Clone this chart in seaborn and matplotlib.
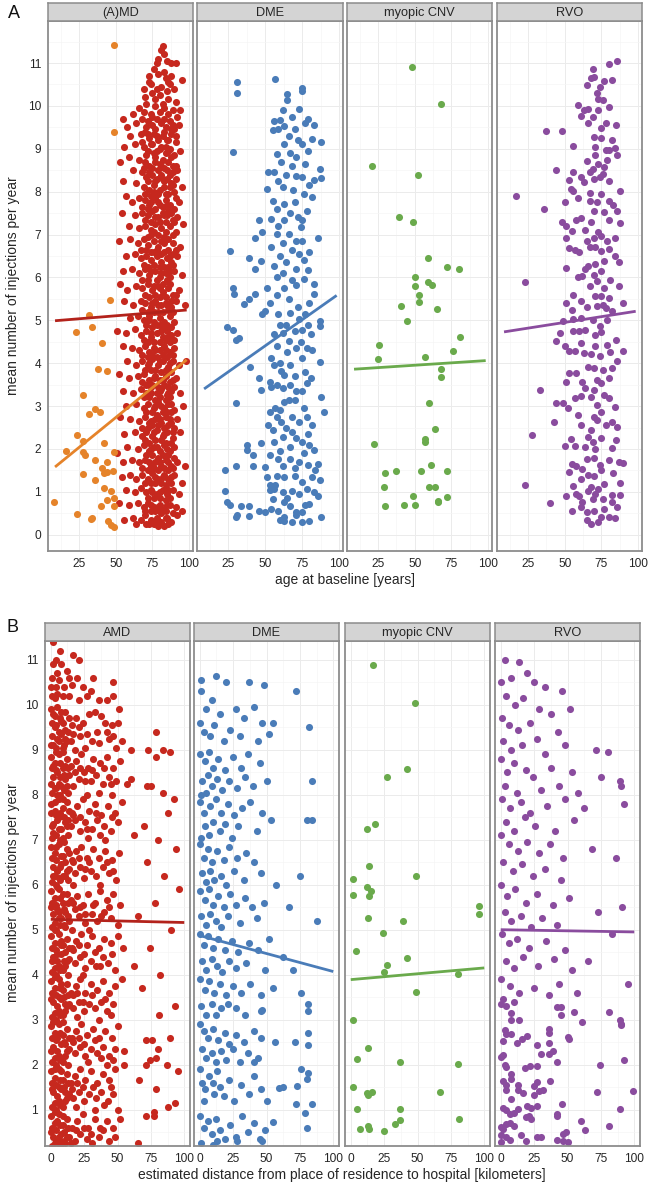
"""
Injection frequency vs age / distance, faceted by indication (A and B panels)
"""

import matplotlib
matplotlib.use("Agg")
import matplotlib.pyplot as plt
import seaborn as sns
from matplotlib.ticker import MultipleLocator

sns.set_style("white")
plt.rcParams['font.family'] = ['Liberation Sans', 'DejaVu Sans']

# ---------------------------------------------------------------------------
# Data: (x, mean injections per year)
# ---------------------------------------------------------------------------
facet_titles_a = ['(A)MD', 'DME', 'myopic CNV', 'RVO']
facet_titles_b = ['AMD', 'DME', 'myopic CNV', 'RVO']

# Panel A: age at baseline [years]
amd_age = [
    (82, 11.4), (81, 11.3), (83, 11.2), (85, 11.05), (78, 11.0), (88, 11.0), (91, 11.0), (95, 10.6),
    (76, 10.85), (79, 10.75), (84, 10.65), (73, 10.7), (87, 10.5), (90, 10.4), (69, 10.4), (75, 10.3),
    (80, 10.25), (86, 10.15), (91, 10.1), (66, 9.95), (71, 10.05), (77, 10.0), (83, 9.95), (89, 9.9),
    (62, 9.8), (55, 9.7), (94, 9.9),
    (58, 9.5), (64, 9.6), (68, 9.7), (72, 9.65), (75, 9.55), (78, 9.7), (81, 9.6), (84, 9.5), (87, 9.65),
    (90, 9.45), (93, 9.55), (60, 9.3), (67, 9.35), (70, 9.4), (73, 9.25), (76, 9.35), (79, 9.2), (82, 9.3),
    (85, 9.2), (88, 9.35), (91, 9.15), (56, 9.05), (63, 9.1), (69, 9.05), (72, 8.95), (75, 9.1), (78, 8.95),
    (81, 9.05), (84, 8.9), (87, 9.0), (90, 8.85), (94, 8.95),
    (53, 8.7), (59, 8.8), (66, 8.75), (70, 8.7), (73, 8.6), (77, 8.7), (80, 8.65), (83, 8.55), (86, 8.7),
    (89, 8.6), (92, 8.5), (62, 8.5), (68, 8.45), (71, 8.35), (75, 8.4), (78, 8.3), (81, 8.4), (85, 8.3),
    (88, 8.2), (91, 8.3), (55, 8.25), (64, 8.2), (69, 8.1), (73, 8.05), (76, 8.15), (80, 8.05), (83, 8.1),
    (86, 7.95), (90, 8.0), (95, 8.1),
    (57, 7.9), (61, 7.75), (66, 7.85), (70, 7.8), (74, 7.75), (77, 7.85), (80, 7.7), (84, 7.8), (87, 7.7),
    (90, 7.6), (93, 7.75), (54, 7.5), (63, 7.45), (68, 7.5), (72, 7.45), (75, 7.55), (79, 7.4), (82, 7.5),
    (85, 7.45), (89, 7.35), (92, 7.4), (59, 7.2), (66, 7.15), (70, 7.2), (74, 7.1), (77, 7.25), (81, 7.15),
    (84, 7.05), (87, 7.2), (91, 7.05), (96, 7.25),
    (52, 6.85), (60, 6.9), (65, 6.8), (69, 6.9), (72, 6.75), (76, 6.85), (79, 6.7), (83, 6.8), (86, 6.65),
    (89, 6.8), (94, 6.7), (57, 6.5), (63, 6.55), (67, 6.45), (71, 6.5), (74, 6.4), (78, 6.5), (81, 6.35),
    (85, 6.45), (88, 6.35), (92, 6.5), (55, 6.15), (61, 6.2), (66, 6.1), (70, 6.2), (73, 6.05), (77, 6.15),
    (80, 6.0), (84, 6.1), (87, 6.0), (90, 6.15), (95, 6.05),
    (53, 5.85), (58, 5.7), (64, 5.8), (68, 5.75), (72, 5.85), (75, 5.7), (79, 5.8), (82, 5.65), (86, 5.75),
    (89, 5.6), (93, 5.7), (56, 5.45), (62, 5.35), (67, 5.45), (70, 5.4), (74, 5.3), (77, 5.45), (81, 5.35),
    (84, 5.4), (88, 5.3), (91, 5.45), (97, 5.35), (60, 5.05), (65, 5.1), (69, 5.0), (73, 5.1), (76, 4.95),
    (80, 5.05), (83, 4.95), (87, 5.1), (90, 4.95),
    (51, 4.75), (57, 4.7), (63, 4.8), (67, 4.65), (71, 4.75), (74, 4.6), (78, 4.7), (82, 4.6), (85, 4.75),
    (88, 4.65), (92, 4.7), (55, 4.4), (61, 4.35), (66, 4.3), (70, 4.4), (73, 4.25), (76, 4.35), (80, 4.3),
    (83, 4.4), (87, 4.25), (90, 4.35), (98, 4.05), (58, 4.05), (64, 3.95), (68, 4.05), (72, 3.95), (75, 4.1),
    (79, 3.95), (82, 4.05), (86, 3.9), (89, 4.05), (93, 3.95),
    (52, 3.75), (59, 3.65), (65, 3.7), (69, 3.75), (73, 3.6), (77, 3.7), (80, 3.6), (84, 3.7), (87, 3.55),
    (91, 3.65), (55, 3.35), (62, 3.3), (67, 3.4), (71, 3.3), (74, 3.45), (78, 3.3), (81, 3.4), (85, 3.25),
    (88, 3.35), (94, 3.3), (57, 3.0), (64, 3.05), (69, 2.95), (72, 3.05), (76, 2.95), (79, 3.1), (83, 2.95),
    (86, 3.05), (90, 2.9), (96, 3.0),
    (53, 2.75), (60, 2.7), (66, 2.65), (70, 2.75), (73, 2.6), (77, 2.7), (81, 2.6), (84, 2.75), (88, 2.6),
    (92, 2.7), (56, 2.35), (63, 2.4), (68, 2.3), (71, 2.4), (75, 2.3), (78, 2.45), (82, 2.3), (85, 2.4),
    (89, 2.25), (94, 2.4), (58, 2.05), (65, 2.0), (69, 2.1), (73, 1.95), (76, 2.05), (80, 1.95), (83, 2.1),
    (87, 1.95), (90, 2.05), (97, 1.6),
    (51, 1.9), (55, 1.7), (61, 1.75), (66, 1.7), (70, 1.75), (74, 1.6), (77, 1.7), (81, 1.6), (84, 1.75),
    (88, 1.6), (92, 1.7), (54, 1.35), (60, 1.4), (64, 1.3), (68, 1.4), (72, 1.3), (75, 1.45), (79, 1.3),
    (83, 1.4), (86, 1.3), (90, 1.4), (95, 1.2), (57, 1.05), (63, 1.0), (67, 1.1), (71, 1.0), (74, 1.05),
    (78, 0.95), (82, 1.05), (85, 0.95), (89, 1.05), (93, 0.95),
    (52, 0.75), (59, 0.7), (65, 0.75), (69, 0.65), (72, 0.75), (76, 0.65), (80, 0.7), (83, 0.6), (87, 0.7),
    (91, 0.65), (95, 0.55), (56, 0.35), (62, 0.4), (67, 0.35), (70, 0.45), (74, 0.35), (78, 0.4), (81, 0.3),
    (85, 0.4), (88, 0.3), (92, 0.45), (64, 0.25), (73, 0.25), (79, 0.2), (86, 0.25),
]
# the solid core of the (A)MD cloud, ages ~68-92
amd_age_core = [
    (70, 10.2), (74, 10.5), (81, 10.45), (85, 10.35), (88, 10.7), (77, 10.15), (83, 10.8), (79, 11.1),
    (69, 9.85), (74, 9.8), (80, 9.85), (86, 9.8), (92, 9.75), (71, 9.5), (77, 9.45), (83, 9.4), (89, 9.55),
    (68, 9.15), (74, 9.1), (80, 9.0), (86, 9.2), (91, 9.3), (71, 8.85), (77, 8.8), (82, 8.75), (88, 8.8),
    (69, 8.55), (75, 8.55), (79, 8.5), (85, 8.5), (91, 8.6), (72, 8.25), (77, 8.25), (83, 8.25), (87, 8.4),
    (70, 7.95), (74, 7.9), (79, 7.95), (84, 7.95), (89, 8.15),
    (68, 7.65), (72, 7.6), (77, 7.6), (82, 7.65), (86, 7.55), (91, 7.85), (70, 7.35), (74, 7.3), (80, 7.3),
    (84, 7.3), (88, 7.5), (72, 6.95), (76, 7.05), (79, 7.0), (83, 6.95), (89, 7.0),
    (67, 6.65), (71, 6.65), (74, 6.6), (78, 6.65), (81, 6.55), (87, 6.5), (91, 6.65), (69, 6.3), (72, 6.25),
    (76, 6.3), (80, 6.25), (83, 6.25), (86, 6.25), (89, 6.3), (68, 5.95), (72, 5.95), (78, 5.95), (82, 5.85),
    (85, 5.95),
    (70, 5.6), (73, 5.55), (77, 5.6), (80, 5.55), (84, 5.55), (88, 5.45), (91, 5.6), (68, 5.25), (72, 5.2),
    (76, 5.2), (79, 5.2), (82, 5.2), (86, 5.25), (89, 5.2), (71, 4.9), (75, 4.85), (78, 4.9), (82, 4.85),
    (85, 4.9),
    (69, 4.55), (72, 4.5), (76, 4.5), (80, 4.5), (84, 4.55), (87, 4.5), (90, 4.55), (68, 4.2), (72, 4.15),
    (75, 4.2), (78, 4.15), (82, 4.2), (85, 4.15), (89, 4.2), (70, 3.85), (74, 3.85), (77, 3.85), (81, 3.8),
    (84, 3.85), (88, 3.8),
    (68, 3.55), (71, 3.5), (75, 3.5), (79, 3.45), (83, 3.5), (86, 3.45), (90, 3.45), (69, 3.2), (73, 3.2),
    (77, 3.15), (80, 3.2), (84, 3.15), (87, 3.2), (71, 2.85), (75, 2.85), (78, 2.8), (82, 2.85), (85, 2.85),
    (88, 2.85),
    (68, 2.5), (72, 2.5), (75, 2.55), (79, 2.55), (83, 2.5), (86, 2.55), (90, 2.5), (70, 2.2), (73, 2.15),
    (77, 2.2), (81, 2.2), (84, 2.15), (88, 2.15), (71, 1.85), (75, 1.85), (79, 1.8), (82, 1.85), (86, 1.85),
    (90, 1.8),
    (68, 1.55), (72, 1.5), (76, 1.55), (79, 1.5), (83, 1.55), (86, 1.5), (89, 1.55), (70, 1.2), (74, 1.2),
    (77, 1.2), (81, 1.2), (84, 1.15), (88, 1.2), (72, 0.85), (76, 0.85), (80, 0.85), (84, 0.8), (87, 0.85),
    (70, 0.55), (74, 0.55), (77, 0.55), (81, 0.5), (84, 0.55), (89, 0.5), (76, 0.25), (83, 0.2), (71, 0.25),
    (73, 10.55), (78, 10.4), (86, 10.55), (82, 10.05), (75, 9.75), (83, 9.7), (88, 9.45), (72, 9.35),
    (78, 9.3), (84, 9.05), (76, 8.9), (86, 8.95), (73, 8.45), (81, 8.6), (89, 8.45), (76, 8.0), (82, 8.3),
    (87, 8.1), (73, 7.7), (79, 7.75), (85, 7.7), (77, 7.4), (83, 7.45), (90, 7.3), (74, 7.0), (81, 6.85),
    (86, 6.9), (76, 6.6), (83, 6.6), (89, 6.55), (74, 6.15), (81, 6.1), (87, 6.15), (76, 5.8), (80, 5.75),
    (87, 5.85), (75, 5.4), (79, 5.35), (85, 5.35), (73, 5.0), (80, 4.9), (88, 4.85), (74, 4.7), (81, 4.75),
    (86, 4.6), (77, 4.3), (84, 4.3), (73, 4.0), (80, 4.05), (87, 4.0), (76, 3.65), (82, 3.6), (89, 3.6),
    (74, 3.3), (80, 3.35), (86, 3.3), (77, 3.0), (81, 3.0), (88, 3.05), (74, 2.65), (80, 2.7), (87, 2.7),
    (76, 2.4), (83, 2.35), (89, 2.4), (74, 2.0), (78, 2.05), (85, 2.0), (73, 1.7), (80, 1.7), (86, 1.7),
    (77, 1.35), (82, 1.35), (88, 1.35), (75, 1.0), (80, 1.0), (86, 1.05), (74, 0.7), (79, 0.65), (85, 0.7),
    (78, 0.35), (84, 0.4), (80, 0.55),
]
md_young_age = [
    (49, 11.42), (49, 9.38), (46, 5.47), (32, 5.13), (34, 4.84), (23, 4.73), (41, 4.47), (38, 3.87),
    (44, 3.81), (28, 3.26), (36, 2.94), (32, 2.81), (39, 2.85), (24, 2.32), (28, 2.18), (28, 1.92),
    (29, 1.87), (16, 1.96), (42, 2.14), (49, 1.93), (36, 1.75), (44, 1.70), (41, 1.56), (42, 1.45),
    (44, 1.47), (48, 1.48), (28, 1.41), (36, 1.28), (42, 1.09), (47, 1.01), (44, 0.82), (49, 0.85),
    (8, 0.77), (40, 0.66), (49, 0.67), (24, 0.48), (33, 0.36), (34, 0.39), (45, 0.31), (47, 0.23), (49, 0.19),
]
dme_age = [
    (31, 10.56), (31, 10.31), (57, 10.63), (65, 10.28), (65, 10.14), (75, 10.41), (75, 10.34), (73, 9.92),
    (56, 9.65), (60, 9.66), (63, 9.53), (70, 9.47), (79, 9.69), (83, 9.55), (59, 9.47), (55, 9.44),
    (28, 8.92), (82, 9.22), (88, 9.15), (75, 9.12), (63, 9.12), (58, 8.89), (67, 8.90), (71, 8.81),
    (87, 8.54), (83, 8.28), (88, 8.33), (52, 8.46), (56, 8.45), (51, 8.07), (59, 8.26), (64, 8.40),
    (71, 8.37), (75, 8.34), (76, 7.94), (82, 7.87), (55, 7.79), (63, 7.72), (67, 7.50), (72, 7.40),
    (46, 7.35), (54, 7.36), (59, 7.21), (48, 7.07), (43, 6.92), (58, 7.01), (66, 7.01), (74, 7.18),
    (86, 6.93), (26, 6.62), (54, 6.70), (60, 6.50), (68, 6.65), (75, 6.86), (73, 6.54), (39, 6.45),
    (47, 6.39), (43, 6.19), (56, 6.27), (62, 6.10), (71, 6.19), (79, 6.17), (28, 5.76), (29, 5.61),
    (43, 5.62), (39, 5.49), (36, 5.39), (51, 5.76), (53, 5.41), (58, 5.58), (63, 5.76), (71, 5.83),
    (76, 5.96), (83, 5.84), (83, 5.61), (50, 5.21), (59, 5.14), (67, 5.18), (73, 5.02), (77, 5.14),
    (87, 4.98), (48, 5.14), (24, 4.84), (28, 4.78), (30, 4.53), (32, 4.59), (56, 4.67), (62, 4.71),
    (64, 4.90), (75, 4.78), (81, 4.67), (87, 4.86), (66, 4.51), (71, 4.35), (78, 4.35), (54, 4.12),
    (60, 4.00), (61, 3.81), (63, 3.73), (67, 3.96), (75, 4.12), (87, 4.03), (40, 3.92), (56, 3.96),
    (46, 3.65), (53, 3.57), (47, 3.38), (54, 3.45), (62, 3.42), (67, 3.49), (71, 3.34), (78, 3.53),
    (81, 3.65), (30, 3.08), (63, 3.10), (70, 3.14), (76, 2.95), (88, 3.20), (90, 2.87), (53, 2.87),
    (58, 2.75), (61, 2.63), (68, 2.75), (73, 2.63), (82, 2.56), (52, 2.56), (47, 2.13), (55, 2.44),
    (56, 2.16), (62, 2.28), (68, 2.40), (75, 2.16), (80, 2.09), (83, 1.97), (38, 2.09), (38, 1.97),
    (42, 1.87), (30, 1.60), (42, 1.60), (50, 1.59), (53, 1.85), (59, 1.77), (67, 1.77), (73, 1.70),
    (79, 1.62), (84, 1.50), (23, 1.52), (51, 1.34), (58, 1.38), (63, 1.34), (70, 1.38), (75, 1.23),
    (87, 1.27), (23, 1.02), (53, 1.15), (56, 1.07), (62, 0.99), (68, 1.03), (78, 1.07), (83, 0.99),
    (24, 0.76), (26, 0.70), (34, 0.68), (39, 0.66), (46, 0.55), (50, 0.52), (55, 0.84), (59, 0.56),
    (63, 0.76), (67, 0.68), (71, 0.52), (75, 0.52), (80, 0.72), (86, 0.91), (31, 0.46), (30, 0.41),
    (39, 0.43), (63, 0.41), (63, 0.31), (80, 0.31), (88, 0.41), (71, 0.45), (54, 0.61),
    (62, 9.9), (68, 9.75), (77, 9.6), (66, 9.3), (72, 9.2), (79, 8.95), (61, 8.7), (68, 8.6), (77, 8.65),
    (62, 8.1), (69, 8.05), (80, 8.15), (58, 7.6), (70, 7.75), (78, 7.55), (63, 7.35), (75, 7.35), (62, 6.8),
    (71, 6.85), (80, 6.6), (64, 6.35), (76, 6.4), (58, 6.0), (68, 5.95), (80, 5.4), (66, 5.5), (72, 5.3),
    (60, 4.9), (70, 4.75), (79, 4.9), (58, 4.4), (74, 4.5), (65, 4.25), (70, 3.7), (77, 3.8), (58, 3.5),
    (75, 3.35), (66, 3.15), (60, 2.9), (78, 2.75), (64, 2.5), (71, 2.25), (60, 1.95), (67, 2.05), (76, 1.9),
    (62, 1.6), (70, 1.55), (57, 1.15), (73, 0.95), (65, 0.85), (77, 0.7), (60, 0.35), (68, 0.3), (75, 0.3),
    (82, 1.35), (79, 2.35), (86, 1.65), (57, 2.95), (53, 1.05), (82, 4.3),
]
cnv_age = [
    (48, 10.9), (68, 10.05), (21, 8.6), (52, 8.4), (39, 7.4), (49, 7.3), (59, 6.45), (72, 6.25),
    (80, 6.2), (50, 6.0), (50, 5.8), (59, 5.9), (62, 5.82), (53, 5.58), (53, 5.43), (41, 5.33),
    (65, 5.26), (45, 4.98), (26, 4.43), (81, 4.6), (76, 4.29), (25, 4.09), (57, 4.14), (68, 3.87),
    (68, 3.68), (60, 3.07), (64, 2.47), (57, 2.23), (57, 2.16), (22, 2.12), (61, 1.62), (30, 1.45),
    (37, 1.49), (54, 1.48), (72, 1.48), (29, 1.11), (60, 1.11), (64, 1.12), (49, 0.91), (72, 0.88),
    (66, 0.78), (30, 0.66), (43, 0.69), (50, 0.69), (66, 0.76),
]
rvo_age = [
    (86, 11.04), (80, 10.98), (69, 10.86), (70, 10.67), (68, 10.65), (77, 10.57), (65, 10.49), (74, 10.44),
    (73, 10.17), (76, 10.14), (59, 10.02), (63, 9.91), (66, 9.92), (73, 9.91), (80, 9.98), (61, 9.76),
    (69, 9.75), (37, 9.41), (48, 9.41), (70, 9.28), (75, 9.48), (85, 9.55), (75, 9.25), (56, 9.06),
    (78, 8.97), (80, 8.97), (84, 9.01), (86, 8.85), (71, 8.85), (65, 8.72), (73, 8.65), (77, 8.58),
    (44, 8.51), (56, 8.46), (61, 8.34), (69, 8.54), (76, 8.42), (80, 8.26), (53, 8.28), (63, 8.22),
    (70, 8.30), (74, 8.34), (54, 8.07), (56, 8.01), (17, 7.90), (50, 7.77), (67, 7.97), (67, 7.79),
    (75, 7.95), (80, 7.79), (88, 8.01), (36, 7.60), (70, 7.56), (77, 7.52), (86, 7.56), (48, 7.29),
    (51, 7.21), (58, 7.33), (61, 7.38), (68, 7.29), (80, 7.33), (88, 7.27), (51, 6.93), (55, 7.08),
    (65, 6.86), (70, 6.93), (75, 6.97), (79, 6.86), (84, 6.93), (53, 6.68), (57, 6.65), (67, 6.70),
    (75, 6.62), (80, 6.66), (51, 6.23), (66, 6.27), (71, 6.31), (77, 6.39), (87, 6.37), (23, 5.89),
    (59, 6.01), (62, 6.03), (70, 6.06), (72, 5.92), (77, 5.76), (87, 5.79), (51, 5.41), (56, 5.59),
    (61, 5.45), (55, 5.25), (71, 5.57), (75, 5.57), (80, 5.51), (72, 5.33), (78, 5.29), (82, 5.21),
    (90, 5.41), (56, 5.02), (61, 5.06), (49, 4.98), (64, 4.78), (74, 4.86), (75, 4.73), (47, 4.71),
    (56, 4.75), (44, 4.51), (50, 4.39), (53, 4.28), (57, 4.28), (61, 4.47), (63, 4.24), (68, 4.21),
    (71, 4.39), (74, 4.16), (79, 4.43), (85, 4.55), (90, 4.28), (86, 4.04), (70, 3.89), (82, 3.89),
    (53, 3.77), (58, 3.77), (80, 3.65), (75, 3.53), (51, 3.55), (33, 3.38), (64, 3.42), (70, 3.38),
    (61, 3.24), (57, 3.18), (44, 3.06), (49, 3.08), (52, 2.95), (72, 3.02), (80, 3.18), (84, 2.98),
    (70, 2.75), (75, 2.87), (72, 2.67), (82, 2.63), (86, 2.52), (43, 2.63), (61, 2.56), (68, 2.44),
    (28, 2.32), (54, 2.24), (66, 2.28), (69, 2.16), (71, 2.00), (50, 2.07), (57, 2.07), (82, 2.02),
    (65, 1.77), (55, 1.66), (62, 1.54), (53, 1.46), (74, 1.62), (75, 1.50), (70, 1.38), (90, 1.68),
    (87, 1.70), (56, 1.13), (61, 1.29), (66, 1.03), (68, 1.12), (73, 1.07), (77, 1.19), (82, 0.93),
    (88, 0.93), (23, 1.15), (51, 0.91), (58, 0.95), (62, 0.76), (69, 0.84), (76, 0.84), (82, 0.76),
    (40, 0.74), (55, 0.55), (61, 0.64), (65, 0.52), (70, 0.56), (75, 0.41), (80, 0.41), (84, 0.39),
    (65, 0.34),
    (72, 10.3), (82, 10.6), (66, 9.6), (78, 9.6), (71, 9.05), (82, 9.2), (67, 8.45), (79, 8.75), (59, 7.85),
    (72, 7.75), (83, 7.7), (64, 7.1), (73, 7.05), (60, 6.6), (71, 6.7), (84, 6.5), (64, 6.2), (75, 6.15),
    (67, 5.8), (81, 5.95), (65, 5.3), (76, 5.35), (69, 5.0), (79, 5.0), (60, 4.75), (71, 4.65), (81, 4.25),
    (66, 3.9), (76, 3.85), (62, 3.55), (72, 3.6), (68, 3.2), (77, 3.25), (59, 2.8), (78, 2.55), (64, 2.05),
    (75, 2.25), (70, 1.8), (80, 1.75), (58, 1.6), (83, 1.45), (66, 1.4), (71, 0.95), (77, 0.6), (60, 0.9),
    (68, 0.25), (73, 0.3), (86, 0.65), (88, 1.2), (85, 2.2),
]

# Panel B: estimated distance to hospital [km]
amd_dist = [
    (2, 11.4), (4, 11.0), (8, 10.9), (5, 10.7), (17, 11.1), (21, 11.0), (14, 10.6), (20, 10.6), (32, 10.6),
    (47, 10.5), (10, 10.4), (4, 10.4), (24, 10.4), (1, 10.2), (27, 10.2), (14, 10.2), (21, 10.1), (36, 10.1),
    (42, 10.1), (47, 10.2),
    (0, 9.9), (2, 9.8), (5, 9.95), (7, 9.7), (11, 9.85), (3, 9.5), (9, 9.6), (13, 9.4), (16, 9.55), (19, 9.7),
    (24, 9.6), (29, 9.8), (33, 9.85), (38, 9.75), (41, 9.6), (46, 9.55), (51, 9.9), (50, 9.6), (1, 9.3),
    (6, 9.2), (10, 9.1), (15, 9.2), (22, 9.3), (26, 9.05), (31, 9.2), (35, 9.4), (44, 9.25), (49, 9.05),
    (53, 9.2), (4, 9.05), (8, 9.35), (18, 9.0), (79, 9.4), (60, 9.0), (73, 9.0), (84, 9.0), (89, 8.95), (79, 8.85),
    (0, 8.85), (3, 8.7), (6, 8.9), (9, 8.6), (12, 8.8), (15, 8.65), (19, 8.75), (23, 8.9), (28, 8.6), (32, 8.8),
    (37, 8.7), (42, 8.85), (47, 8.6), (52, 8.75), (2, 8.4), (5, 8.5), (8, 8.2), (11, 8.35), (14, 8.45),
    (17, 8.2), (21, 8.35), (25, 8.5), (30, 8.3), (34, 8.45), (39, 8.25), (44, 8.4), (49, 8.3), (57, 8.25),
    (60, 8.35), (72, 8.2), (75, 8.2), (1, 8.05), (4, 8.15), (7, 8.0), (13, 8.05), (27, 8.0), (36, 8.05),
    (46, 8.0), (84, 8.05), (92, 7.9),
    (0, 7.8), (3, 7.65), (6, 7.9), (9, 7.7), (12, 7.85), (16, 7.6), (20, 7.75), (24, 7.9), (29, 7.65),
    (33, 7.8), (38, 7.55), (43, 7.75), (48, 7.6), (53, 7.85), (2, 7.35), (5, 7.45), (8, 7.25), (11, 7.4),
    (15, 7.3), (18, 7.45), (22, 7.2), (26, 7.4), (31, 7.25), (35, 7.45), (40, 7.3), (45, 7.2), (50, 7.4),
    (1, 7.05), (4, 7.1), (7, 7.0), (13, 7.1), (28, 7.05), (41, 7.0), (62, 7.1), (70, 7.3), (80, 7.0), (88, 7.6),
    (0, 6.85), (3, 6.7), (6, 6.9), (9, 6.65), (12, 6.8), (16, 6.55), (19, 6.75), (23, 6.85), (27, 6.6),
    (32, 6.8), (36, 6.6), (41, 6.75), (46, 6.55), (51, 6.7), (2, 6.4), (5, 6.3), (8, 6.45), (11, 6.2),
    (14, 6.35), (18, 6.25), (22, 6.4), (25, 6.15), (30, 6.3), (34, 6.2), (39, 6.4), (44, 6.25), (49, 6.1),
    (1, 6.05), (4, 6.0), (7, 6.1), (17, 6.0), (37, 6.0), (72, 6.5), (85, 6.2), (94, 6.8), (96, 5.9),
    (0, 5.85), (3, 5.7), (6, 5.9), (9, 5.6), (12, 5.8), (15, 5.65), (20, 5.75), (24, 5.55), (28, 5.8),
    (33, 5.6), (37, 5.85), (42, 5.65), (47, 5.8), (52, 5.55), (2, 5.35), (5, 5.45), (8, 5.25), (11, 5.4),
    (14, 5.2), (18, 5.45), (21, 5.3), (26, 5.15), (31, 5.35), (35, 5.2), (40, 5.4), (45, 5.25), (50, 5.1),
    (1, 5.05), (4, 5.0), (7, 5.1), (16, 5.0), (29, 5.0), (78, 5.6), (65, 5.3), (90, 5.0),
    (0, 4.85), (3, 4.7), (6, 4.9), (9, 4.65), (12, 4.8), (16, 4.6), (19, 4.75), (23, 4.9), (27, 4.65),
    (31, 4.85), (36, 4.6), (40, 4.8), (45, 4.7), (50, 4.85), (54, 4.6), (2, 4.4), (5, 4.3), (8, 4.45),
    (11, 4.2), (14, 4.35), (18, 4.25), (22, 4.4), (26, 4.15), (30, 4.3), (34, 4.2), (39, 4.4), (43, 4.25),
    (48, 4.1), (1, 4.05), (4, 4.0), (7, 4.1), (13, 4.0), (24, 4.0), (74, 4.6), (82, 4.0), (62, 4.2),
    (0, 3.85), (3, 3.7), (6, 3.9), (9, 3.65), (12, 3.8), (15, 3.6), (19, 3.75), (22, 3.9), (26, 3.6),
    (30, 3.8), (35, 3.65), (39, 3.85), (44, 3.6), (48, 3.75), (53, 3.9), (2, 3.4), (5, 3.3), (8, 3.45),
    (11, 3.2), (14, 3.35), (17, 3.25), (21, 3.4), (25, 3.2), (29, 3.35), (33, 3.25), (38, 3.4), (42, 3.2),
    (47, 3.35), (1, 3.05), (4, 3.0), (7, 3.1), (20, 3.05), (36, 3.0), (68, 3.7), (93, 3.3), (81, 3.1),
    (0, 2.85), (3, 2.7), (6, 2.9), (9, 2.65), (12, 2.8), (16, 2.6), (19, 2.75), (23, 2.9), (27, 2.65),
    (32, 2.8), (36, 2.6), (41, 2.75), (46, 2.6), (50, 2.85), (2, 2.4), (5, 2.3), (8, 2.45), (11, 2.2),
    (14, 2.35), (18, 2.25), (22, 2.4), (26, 2.2), (30, 2.35), (35, 2.25), (39, 2.4), (44, 2.2), (48, 2.35),
    (55, 2.3), (1, 2.05), (4, 2.0), (7, 2.1), (13, 2.0), (28, 2.05), (42, 2.0), (55, 2.0), (71, 2.55),
    (76, 2.55), (80, 2.35), (89, 2.6), (74, 2.1), (79, 2.15), (71, 2.0), (87, 2.0),
    (0, 1.85), (3, 1.7), (6, 1.9), (9, 1.65), (12, 1.8), (15, 1.6), (18, 1.75), (22, 1.9), (26, 1.65),
    (30, 1.85), (35, 1.6), (39, 1.8), (44, 1.65), (48, 1.9), (2, 1.4), (5, 1.3), (8, 1.45), (11, 1.2),
    (14, 1.35), (17, 1.25), (21, 1.4), (25, 1.2), (29, 1.35), (34, 1.25), (38, 1.4), (43, 1.2), (47, 1.35),
    (1, 1.05), (4, 1.0), (7, 1.1), (19, 1.05), (33, 1.0), (50, 1.0), (95, 1.85), (66, 1.65), (79, 1.45),
    (88, 1.05), (93, 1.15),
    (0, 0.85), (3, 0.7), (6, 0.9), (9, 0.65), (12, 0.8), (16, 0.6), (20, 0.75), (24, 0.9), (28, 0.6),
    (33, 0.8), (37, 0.6), (42, 0.75), (47, 0.6), (52, 0.8), (2, 0.4), (5, 0.3), (8, 0.45), (11, 0.25),
    (14, 0.4), (18, 0.3), (22, 0.45), (27, 0.35), (31, 0.25), (36, 0.4), (44, 0.3), (1, 0.2), (7, 0.2),
    (71, 0.85), (77, 0.95), (77, 0.85), (65, 0.25),
]
# the solid core of the AMD cloud, 0-50 km
amd_dist_core = [
    (1, 10.6), (6, 10.55), (3, 10.15), (9, 10.2), (12, 10.75), (16, 10.45), (30, 10.3), (7, 11.2),
    (1, 9.6), (4, 9.55), (8, 9.65), (11, 9.45), (14, 9.7), (2, 9.1), (5, 9.25), (9, 9.05), (12, 9.2),
    (17, 9.35), (21, 9.5), (27, 9.35), (36, 9.15), (42, 9.4), (47, 9.3),
    (1, 8.6), (4, 8.55), (7, 8.7), (10, 8.45), (13, 8.6), (3, 8.15), (6, 8.25), (10, 8.1), (12, 8.2),
    (18, 8.5), (22, 8.6), (26, 8.3), (31, 8.55), (40, 8.6), (45, 8.25),
    (0, 7.6), (4, 7.55), (7, 7.6), (10, 7.5), (14, 7.65), (2, 7.15), (6, 7.25), (9, 7.05), (12, 7.3),
    (17, 7.55), (22, 7.5), (27, 7.25), (34, 7.6), (37, 7.1), (46, 7.5),
    (1, 6.6), (4, 6.55), (8, 6.65), (11, 6.5), (14, 6.7), (3, 6.2), (6, 6.15), (9, 6.2), (13, 6.1),
    (17, 6.5), (21, 6.6), (26, 6.35), (29, 6.5), (42, 6.5), (47, 6.3),
    (1, 5.6), (4, 5.55), (7, 5.7), (10, 5.45), (13, 5.6), (3, 5.15), (6, 5.25), (10, 5.1), (13, 5.3),
    (17, 5.6), (22, 5.5), (26, 5.35), (32, 5.55), (38, 5.3), (44, 5.5),
    (1, 4.6), (4, 4.55), (8, 4.65), (11, 4.5), (14, 4.6), (3, 4.15), (6, 4.2), (9, 4.1), (12, 4.3),
    (17, 4.55), (21, 4.65), (25, 4.45), (33, 4.5), (37, 4.2), (46, 4.45),
    (1, 3.6), (4, 3.55), (7, 3.7), (10, 3.5), (13, 3.55), (3, 3.15), (6, 3.2), (9, 3.1), (12, 3.3),
    (17, 3.55), (20, 3.6), (24, 3.4), (31, 3.55), (41, 3.45), (45, 3.1),
    (1, 2.6), (4, 2.55), (7, 2.7), (10, 2.5), (14, 2.6), (3, 2.15), (6, 2.2), (9, 2.05), (12, 2.3),
    (17, 2.5), (21, 2.6), (25, 2.45), (33, 2.55), (38, 2.15), (47, 2.1),
    (1, 1.6), (4, 1.55), (7, 1.65), (10, 1.5), (13, 1.6), (3, 1.15), (6, 1.2), (9, 1.05), (12, 1.25),
    (16, 1.45), (20, 1.6), (24, 1.5), (32, 1.5), (40, 1.1), (45, 1.5),
    (1, 0.6), (4, 0.55), (7, 0.65), (10, 0.5), (13, 0.6), (3, 0.25), (6, 0.4), (10, 0.3), (15, 0.25),
    (19, 0.55), (25, 0.6), (30, 0.45), (39, 0.55), (48, 0.4),
    (2, 10.9), (0, 10.4), (5, 10.25), (3, 9.75), (8, 9.85), (6, 9.4), (11, 9.25), (0, 9.1), (4, 8.95),
    (9, 8.95), (2, 8.65), (7, 8.4), (11, 8.65), (0, 8.25), (5, 8.0), (3, 7.85), (9, 7.9), (6, 7.5),
    (13, 7.45), (1, 7.3), (4, 6.85), (10, 6.95), (7, 6.4), (2, 6.2), (12, 6.3), (5, 5.95), (0, 5.5),
    (9, 5.8), (6, 5.4), (3, 5.0), (11, 5.05), (8, 4.75), (1, 4.3), (5, 4.45), (10, 4.3), (3, 3.95),
    (8, 3.8), (0, 3.45), (6, 3.5), (11, 3.35), (2, 2.95), (9, 2.95), (5, 2.6), (0, 2.3), (11, 2.45),
    (3, 1.9), (8, 1.85), (1, 1.45), (6, 1.5), (11, 1.4), (3, 0.95), (9, 0.85), (0, 0.5), (5, 0.75),
    (12, 0.4), (8, 0.25),
]
dme_dist = [
    (1, 10.55), (1, 10.3), (12, 10.65), (20, 10.5), (37, 10.5), (48, 10.45), (72, 10.3), (0, 9.6), (5, 9.9),
    (9, 10.1), (15, 9.8), (27, 9.9), (33, 9.7), (41, 9.95), (55, 9.6), (3, 9.4), (8, 9.3), (11, 9.55),
    (18, 9.2), (23, 9.45), (30, 9.3), (44, 9.2), (47, 9.6), (52, 9.35), (82, 9.5),
    (0, 8.9), (4, 8.75), (7, 8.95), (10, 8.6), (14, 8.8), (19, 8.55), (25, 8.85), (31, 8.6), (36, 8.9),
    (45, 8.7), (2, 8.3), (6, 8.45), (9, 8.2), (13, 8.35), (17, 8.1), (22, 8.3), (28, 8.15), (34, 8.4),
    (40, 8.2), (50, 8.3), (84, 8.3), (1, 8.0), (5, 8.05),
    (0, 7.85), (3, 7.6), (8, 7.75), (12, 7.9), (16, 7.6), (21, 7.8), (26, 7.55), (32, 7.7), (38, 7.85),
    (47, 7.6), (4, 7.3), (7, 7.1), (10, 7.4), (15, 7.2), (19, 7.35), (24, 7.05), (29, 7.3), (43, 7.2),
    (53, 7.45), (80, 7.45), (84, 7.45), (1, 7.05),
    (0, 6.9), (3, 6.6), (6, 6.8), (9, 6.5), (13, 6.75), (18, 6.55), (22, 6.85), (28, 6.6), (35, 6.7),
    (41, 6.5), (2, 6.25), (5, 6.05), (8, 6.3), (11, 6.1), (16, 6.2), (20, 6.0), (26, 6.3), (33, 6.1),
    (46, 6.25), (57, 6.0), (75, 6.2),
    (0, 5.85), (4, 5.65), (7, 5.9), (10, 5.55), (14, 5.75), (18, 5.5), (23, 5.8), (27, 5.55), (34, 5.7),
    (39, 5.5), (48, 5.6), (1, 5.3), (5, 5.1), (8, 5.35), (12, 5.2), (16, 5.05), (21, 5.3), (30, 5.15),
    (43, 5.25), (67, 5.5), (88, 5.2),
    (0, 4.9), (3, 4.65), (6, 4.85), (10, 4.6), (14, 4.8), (19, 4.55), (24, 4.75), (29, 4.5), (37, 4.7),
    (44, 4.55), (52, 4.8), (2, 4.3), (5, 4.1), (9, 4.35), (13, 4.2), (17, 4.05), (22, 4.3), (27, 4.15),
    (35, 4.25), (49, 4.1), (62, 4.4), (70, 4.1),
    (0, 3.9), (4, 3.65), (7, 3.85), (11, 3.6), (15, 3.8), (20, 3.55), (25, 3.75), (31, 3.6), (38, 3.8),
    (46, 3.55), (55, 3.7), (1, 3.3), (5, 3.1), (9, 3.35), (12, 3.1), (16, 3.25), (21, 3.35), (27, 3.25),
    (34, 3.1), (46, 3.2), (81, 3.35), (81, 3.2), (47, 3.21), (76, 3.6),
    (0, 2.9), (3, 2.75), (6, 2.6), (10, 2.8), (14, 2.55), (19, 2.7), (22, 2.45), (27, 2.65), (33, 2.5),
    (41, 2.75), (2, 2.35), (5, 2.15), (9, 2.25), (12, 2.05), (16, 2.3), (20, 2.1), (25, 2.35), (30, 2.05),
    (36, 2.25), (41, 2.05), (44, 2.15), (46, 2.59), (56, 2.5), (71, 2.5), (81, 2.7), (81, 2.43),
    (0, 1.9), (2, 1.6), (4, 1.45), (7, 1.75), (10, 1.6), (13, 1.85), (15, 1.5), (18, 1.3), (22, 1.65),
    (26, 1.2), (31, 1.55), (37, 1.35), (41, 1.75), (46, 1.45), (50, 1.2), (59, 1.47), (62, 1.5), (73, 1.52),
    (76, 1.91), (80, 1.67), (81, 1.81), (72, 1.12), (84, 1.12), (3, 1.2), (11, 1.35),
    (0, 0.85), (3, 0.6), (6, 0.75), (9, 0.45), (12, 0.8), (15, 0.55), (19, 0.35), (23, 0.65), (27, 0.4),
    (32, 0.85), (36, 0.5), (41, 0.7), (45, 0.35), (49, 0.55), (55, 0.72), (79, 0.93), (80, 0.6), (1, 0.25),
    (10, 0.22), (13, 0.3), (28, 0.3), (47, 0.3),
]
cnv_dist = [
    (17, 10.89), (48, 10.04), (42, 8.57), (27, 8.39), (18, 7.35), (12, 7.25), (14, 6.41), (49, 6.19),
    (2, 6.13), (12, 5.96), (15, 5.85), (2, 5.77), (14, 5.74), (96, 5.53), (96, 5.36), (13, 5.27),
    (39, 5.20), (24, 4.92), (4, 4.53), (42, 4.37), (27, 4.22), (25, 4.07), (80, 4.01), (49, 3.61),
    (2, 2.99), (13, 2.37), (5, 2.13), (37, 2.06), (80, 2.02), (2, 1.51), (12, 1.37), (16, 1.38),
    (13, 1.33), (67, 1.39), (5, 1.01), (37, 1.02), (81, 0.79), (7, 0.56), (13, 0.64), (14, 0.57),
    (25, 0.53), (33, 0.67), (37, 0.76),
]
rvo_dist = [
    (3, 11.0), (14, 10.95), (20, 10.7), (8, 10.6), (0, 10.5), (25, 10.5), (33, 10.4), (46, 10.3), (4, 10.2),
    (11, 10.0), (17, 10.15), (29, 9.9), (38, 9.8), (52, 9.9), (1, 9.7), (6, 9.55), (13, 9.45), (22, 9.6),
    (43, 9.4), (71, 9.0), (2, 9.2), (8, 9.0), (16, 9.1), (27, 9.25), (33, 8.9), (48, 9.1), (80, 8.95),
    (0, 8.8), (5, 8.5), (10, 8.7), (19, 8.55), (24, 8.4), (38, 8.6), (53, 8.5), (89, 8.3), (90, 8.2),
    (3, 8.2), (12, 8.05), (30, 8.1), (44, 8.2), (58, 8.05), (75, 8.4), (1, 7.9), (7, 7.7), (15, 7.85),
    (22, 7.6), (35, 7.75), (48, 7.9), (62, 7.7), (92, 7.8), (4, 7.4), (10, 7.2), (18, 7.5), (26, 7.3),
    (41, 7.2), (55, 7.45), (0, 7.1), (6, 6.9), (13, 6.75), (20, 6.95), (29, 6.7), (37, 6.9), (47, 6.6),
    (68, 6.8), (2, 6.5), (9, 6.3), (16, 6.45), (24, 6.2), (33, 6.35), (45, 6.1), (86, 6.6), (0, 6.0),
    (5, 5.75), (11, 5.9), (19, 5.6), (27, 5.8), (39, 5.55), (51, 5.7), (73, 5.4), (91, 5.5), (3, 5.4),
    (8, 5.2), (15, 5.3), (23, 5.05), (31, 5.25), (42, 5.1), (1, 4.9), (6, 4.7), (12, 4.8), (21, 4.6),
    (34, 4.75), (48, 4.55), (83, 4.9), (4, 4.3), (10, 4.15), (17, 4.4), (28, 4.2), (40, 4.35), (53, 4.1),
    (65, 4.3), (0, 3.9), (7, 3.75), (14, 3.6), (25, 3.7), (36, 3.55), (44, 3.8), (57, 3.6), (95, 3.8),
    (2, 3.45), (10, 3.4),
    (0, 3.34), (4, 3.30), (8, 3.15), (14, 3.0), (8, 2.99), (42, 3.28), (45, 3.28), (45, 3.10), (55, 3.16),
    (61, 2.95), (81, 3.17), (89, 3.0), (90, 2.90), (90, 2.87), (3, 2.78), (4, 2.69), (8, 2.67), (2, 2.53),
    (12, 2.48), (16, 2.58), (20, 2.64), (36, 2.80), (36, 2.71), (50, 2.61), (51, 2.56), (27, 2.43),
    (36, 2.47), (30, 2.23), (36, 2.24), (39, 2.30), (42, 2.06), (0, 2.17), (2, 2.21), (4, 1.95), (3, 1.99),
    (18, 1.93), (22, 1.96), (27, 1.96), (74, 1.99), (92, 2.10), (8, 1.80), (8, 1.69), (2, 1.63), (4, 1.54),
    (4, 1.44), (13, 1.54), (17, 1.36), (13, 1.43), (8, 1.24), (25, 1.52), (27, 1.61), (29, 1.41),
    (32, 1.43), (37, 1.64), (25, 1.33), (72, 1.38), (99, 1.41), (2, 1.04), (4, 0.99), (7, 0.91), (10, 0.93),
    (13, 1.02), (20, 1.09), (23, 1.04), (27, 1.07), (46, 1.13), (89, 1.02), (0, 0.61), (2, 0.56), (4, 0.67),
    (7, 0.70), (10, 0.63), (21, 0.85), (19, 0.84), (23, 0.79), (42, 0.90), (42, 0.86), (60, 0.74),
    (63, 0.54), (81, 0.64), (0, 0.43), (4, 0.38), (7, 0.32), (15, 0.43), (27, 0.39), (30, 0.39), (19, 0.30),
    (0, 0.28), (42, 0.33), (47, 0.30), (50, 0.27), (49, 0.51), (47, 0.46),
]

# Linear fits as drawn (x range of the fitted line, y at both ends)
fit_x_a = [8.7, 98.4]
amd_fit_a = [4.99, 5.24]
young_fit_a = [1.58, 4.08]
dme_fit_a = [3.40, 5.58]
cnv_fit_a = [3.86, 4.06]
rvo_fit_a = [4.73, 5.21]

fit_x_b = [0, 100]
amd_fit_b = [5.23, 5.16]
dme_fit_b = [4.87, 4.07]
cnv_fit_b = [3.89, 4.15]
rvo_fit_b = [5.00, 4.95]

# ---------------------------------------------------------------------------
RED = '#C6281E'
RED_LINE = '#B3221B'
ORANGE = '#E5832A'
BLUE = '#4A7CB8'
GREEN = '#6AAA4C'
PURPLE = '#8A4C9E'
EDGE = '#8C8C8C'
TXT = '#262626'
DOT = 26

W, H = 650, 1185
fig = plt.figure(figsize=(W / 100, H / 100), dpi=100)


def add_ax(x0, y0, x1, y1):
    # pixel box (top-left origin) -> figure fraction
    return fig.add_axes([x0 / W, 1 - y1 / H, (x1 - x0) / W, (y1 - y0) / H])


def make_facet(box, strip_top, title, xlim, ylim, xticks, yticks, first):
    x0, y0, x1, y1 = box
    ax = add_ax(x0, y0, x1, y1)
    st = add_ax(x0, strip_top, x1, y0)
    st.set_facecolor('#D4D4D4')
    st.set_xticks([])
    st.set_yticks([])
    for s in st.spines.values():
        s.set_color(EDGE)
        s.set_linewidth(1.1)
    st.text(0.5, 0.45, title, ha='center', va='center', fontsize=9.2, color=TXT,
            transform=st.transAxes)

    ax.set_xlim(xlim)
    ax.set_ylim(ylim)
    ax.set_xticks(xticks)
    ax.set_yticks(yticks)
    ax.xaxis.set_minor_locator(MultipleLocator(12.5))
    ax.yaxis.set_minor_locator(MultipleLocator(0.5))
    ax.grid(which='major', color='#EBEBEB', lw=0.7)
    ax.grid(which='minor', color='#F5F5F5', lw=0.5)
    ax.set_axisbelow(True)
    for s in ax.spines.values():
        s.set_color(EDGE)
        s.set_linewidth(1.3)
    ax.tick_params(which='minor', length=0)
    ax.tick_params(which='major', direction='out', length=3, width=0.7, color='#555555',
                   labelsize=8.6, labelcolor=TXT, pad=2)
    if not first:
        ax.tick_params(axis='y', left=False, labelleft=False)
    return ax


def scatter(ax, pts, color):
    xs = [p[0] for p in pts]
    ys = [p[1] for p in pts]
    sns.scatterplot(x=xs, y=ys, color=color, s=DOT, linewidth=0, ax=ax, legend=False)
    ax.set_xlabel('')
    ax.set_ylabel('')


def fit_line(ax, xs, ys, color):
    ax.plot(xs, ys, color=color, lw=2.0, solid_capstyle='butt')


# ---------------------------------------------------------------------------
# Panel A
# ---------------------------------------------------------------------------
boxes_a = [(48, 21, 193, 551), (197, 21, 343, 551), (347, 21, 492, 551), (497, 21, 642, 551)]
xlim_a, ylim_a = (3.9, 102.7), (-0.38, 11.98)
axes_a = [make_facet(b, 2.5, t, xlim_a, ylim_a, [25, 50, 75, 100], range(0, 12), i == 0)
          for i, (b, t) in enumerate(zip(boxes_a, facet_titles_a))]

scatter(axes_a[0], amd_age, RED)
scatter(axes_a[0], amd_age_core, RED)
scatter(axes_a[0], md_young_age, ORANGE)
fit_line(axes_a[0], fit_x_a, amd_fit_a, RED_LINE)
fit_line(axes_a[0], fit_x_a, young_fit_a, ORANGE)
scatter(axes_a[1], dme_age, BLUE)
fit_line(axes_a[1], fit_x_a, dme_fit_a, BLUE)
scatter(axes_a[2], cnv_age, GREEN)
fit_line(axes_a[2], fit_x_a, cnv_fit_a, GREEN)
scatter(axes_a[3], rvo_age, PURPLE)
fit_line(axes_a[3], fit_x_a, rvo_fit_a, PURPLE)

# ---------------------------------------------------------------------------
# Panel B
# ---------------------------------------------------------------------------
boxes_b = [(45, 641, 190, 1146), (194, 641, 339, 1146), (345, 641, 490, 1146), (495, 641, 640, 1146)]
xlim_b, ylim_b = (-4.3, 104.3), (0.19, 11.42)
axes_b = [make_facet(b, 623, t, xlim_b, ylim_b, [0, 25, 50, 75, 100], range(1, 12), i == 0)
          for i, (b, t) in enumerate(zip(boxes_b, facet_titles_b))]

scatter(axes_b[0], amd_dist, RED)
scatter(axes_b[0], amd_dist_core, RED)
fit_line(axes_b[0], fit_x_b, amd_fit_b, RED_LINE)
scatter(axes_b[1], dme_dist, BLUE)
fit_line(axes_b[1], fit_x_b, dme_fit_b, BLUE)
scatter(axes_b[2], cnv_dist, GREEN)
fit_line(axes_b[2], fit_x_b, cnv_fit_b, GREEN)
scatter(axes_b[3], rvo_dist, PURPLE)
fit_line(axes_b[3], fit_x_b, rvo_fit_b, PURPLE)

# ---------------------------------------------------------------------------
# Labels
# ---------------------------------------------------------------------------
ylab = 'mean number of injections per year'
fig.text(13 / W, 1 - 286 / H, ylab, rotation=90, ha='center', va='center', fontsize=10, color=TXT)
fig.text(13 / W, 1 - 893 / H, ylab, rotation=90, ha='center', va='center', fontsize=10, color=TXT)
fig.text(345 / W, 1 - 580 / H, 'age at baseline [years]', ha='center', va='center',
         fontsize=10, color=TXT)
fig.text(342 / W, 1 - 1175 / H, 'estimated distance from place of residence to hospital [kilometers]',
         ha='center', va='center', fontsize=10, color=TXT)
fig.text(14 / W, 1 - 14 / H, 'A', ha='center', va='center', fontsize=13, color='#111111')
fig.text(12 / W, 1 - 627 / H, 'B', ha='center', va='center', fontsize=13, color='#111111')

fig.savefig('out.png', dpi=100)
